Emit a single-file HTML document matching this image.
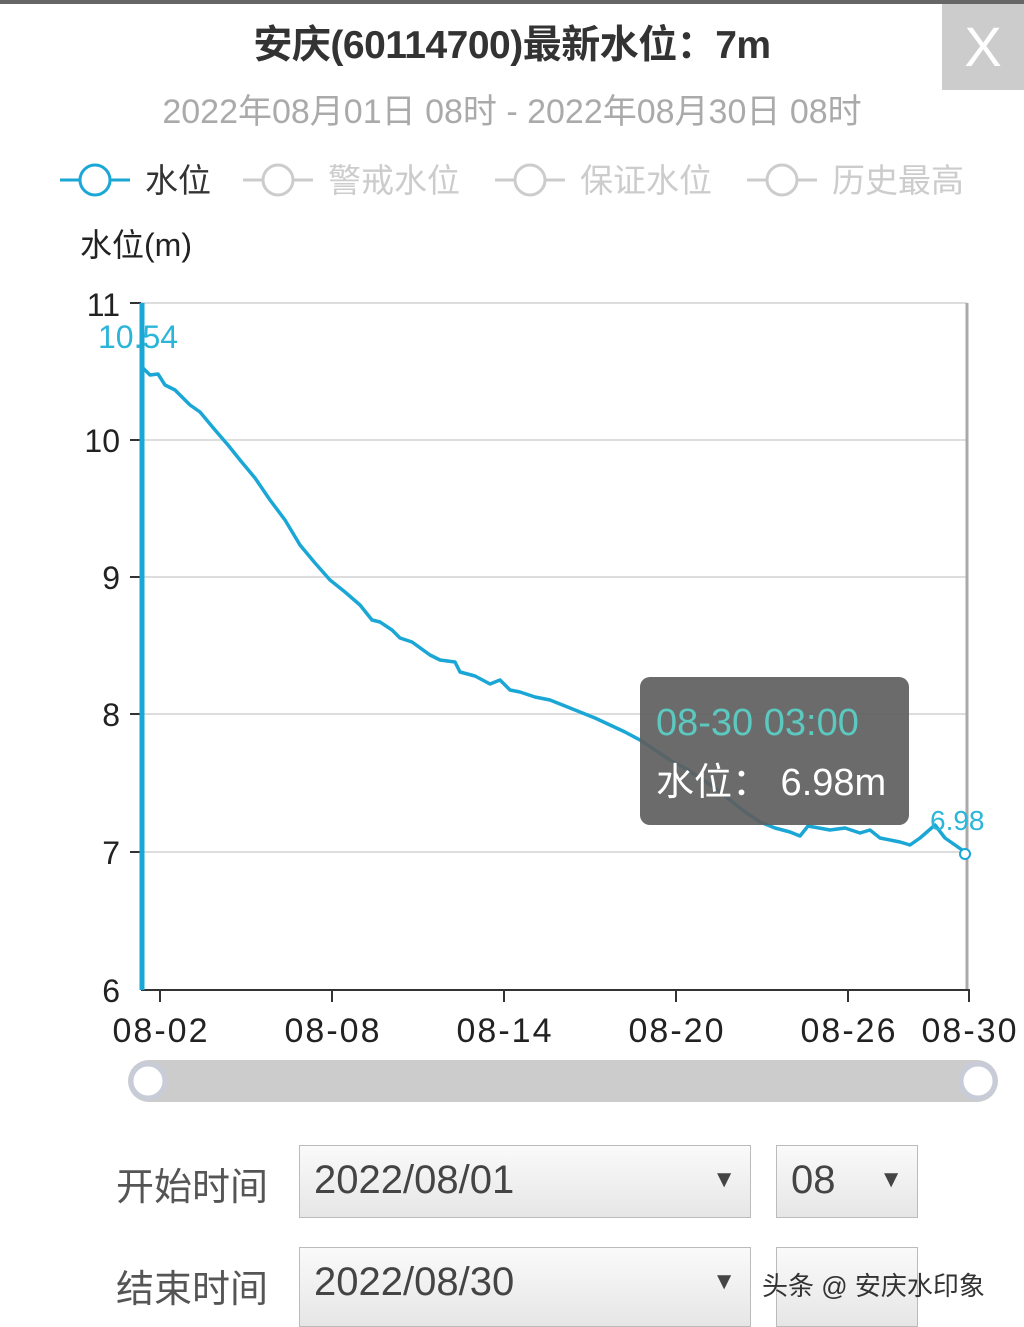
<!DOCTYPE html>
<html><head><meta charset="utf-8"><style>
body{margin:0;width:1024px;height:1320px;background:#fff;position:relative;overflow:hidden;font-family:"Liberation Sans","Noto Sans CJK SC",sans-serif}
.a{position:absolute;white-space:nowrap}
.sel{position:absolute;border:1px solid #bbb;background:linear-gradient(#fafafa,#e6e6e6);box-sizing:border-box;font-size:40px;color:#444}
</style></head><body>
<div class="a" style="left:0;top:0;width:1024px;height:4px;background:#666"></div>
<div class="a" style="left:0;top:14px;width:1024px;text-align:center;font-size:39px;font-weight:bold;color:#333;letter-spacing:-0.5px">安庆(60114700)最新水位：7m</div>
<div class="a" style="left:942px;top:4px;width:82px;height:86px;background:#ccc;color:#fff;font-size:56px;text-align:center;line-height:86px">X</div>
<div class="a" style="left:0;top:84px;width:1024px;text-align:center;font-size:34px;color:#aaa">2022年08月01日 08时 - 2022年08月30日 08时</div>
<svg class="a" style="left:0;top:0" width="1024" height="1320">
<g fill="#fff" stroke-width="3">
<line x1="60" y1="180" x2="130" y2="180" stroke="#1aa7d6"/><circle cx="95" cy="180" r="15" stroke="#1aa7d6"/>
<line x1="243" y1="180" x2="313" y2="180" stroke="#ccc"/><circle cx="278" cy="180" r="15" stroke="#ccc"/>
<line x1="495" y1="180" x2="565" y2="180" stroke="#ccc"/><circle cx="530" cy="180" r="15" stroke="#ccc"/>
<line x1="747" y1="180" x2="817" y2="180" stroke="#ccc"/><circle cx="782" cy="180" r="15" stroke="#ccc"/>
</g>
<text x="145" y="192" font-size="33" fill="#333">水位</text>
<text x="328" y="192" font-size="33" fill="#ccc">警戒水位</text>
<text x="580" y="192" font-size="33" fill="#ccc">保证水位</text>
<text x="832" y="192" font-size="33" fill="#ccc">历史最高</text>
<text x="80" y="256" font-size="32" fill="#222">水位(m)</text>
<g stroke="#ddd" stroke-width="2">
<line x1="141" y1="303" x2="967" y2="303"/><line x1="141" y1="440" x2="967" y2="440"/><line x1="141" y1="577" x2="967" y2="577"/><line x1="141" y1="714" x2="967" y2="714"/><line x1="141" y1="852" x2="967" y2="852"/>
</g>
<line x1="967" y1="303" x2="967" y2="990" stroke="#aaa" stroke-width="3"/>
<g stroke="#333" stroke-width="2">
<line x1="130" y1="303" x2="141" y2="303"/><line x1="130" y1="440" x2="141" y2="440"/><line x1="130" y1="577" x2="141" y2="577"/><line x1="130" y1="714" x2="141" y2="714"/><line x1="130" y1="852" x2="141" y2="852"/>
<line x1="141" y1="990" x2="970" y2="990"/>
<line x1="160" y1="990" x2="160" y2="1002"/><line x1="332" y1="990" x2="332" y2="1002"/><line x1="504" y1="990" x2="504" y2="1002"/><line x1="676" y1="990" x2="676" y2="1002"/><line x1="848" y1="990" x2="848" y2="1002"/><line x1="969" y1="990" x2="969" y2="1002"/>
</g>
<g font-size="32" fill="#222" text-anchor="end">
<text x="120" y="316">11</text><text x="120" y="452">10</text><text x="120" y="589">9</text><text x="120" y="726">8</text><text x="120" y="864">7</text><text x="120" y="1002">6</text>
</g>
<g font-size="34" fill="#222" text-anchor="middle" letter-spacing="2">
<text x="161" y="1042">08-02</text><text x="333" y="1042">08-08</text><text x="505" y="1042">08-14</text><text x="677" y="1042">08-20</text><text x="849" y="1042">08-26</text><text x="970" y="1042">08-30</text>
</g>
<line x1="142" y1="303" x2="142" y2="990" stroke="#1aa7d6" stroke-width="5"/>
<polyline fill="none" stroke="#1aa7d6" stroke-width="3.5" stroke-linejoin="round" points="143,368 150,375 158,374 165,385 175,390 190,405 200,412 215,430 228,445 240,460 255,478 270,500 285,520 300,545 315,563 330,580 345,592 360,605 372,620 380,622 392,630 400,638 412,642 430,655 440,660 455,662 460,672 475,676 490,684 500,680 510,690 520,692 535,697 550,700 565,706 580,712 595,718 610,725 625,732 640,740 655,750 670,760 685,768 700,778 715,788 730,800 745,812 760,822 775,828 790,832 800,836 808,826 830,830 845,828 860,833 870,830 880,838 900,842 910,845 920,838 935,825 945,838 955,845 965,852"/>
<circle cx="965" cy="854" r="5" fill="#fff" stroke="#1aa7d6" stroke-width="2"/>
<text x="98" y="348" font-size="32" fill="#2bb5d8">10.54</text>
<text x="930" y="830" font-size="28" fill="#2bb5d8">6.98</text>
<rect x="640" y="677" width="269" height="148" rx="10" fill="#5e5e5e" fill-opacity="0.92"/>
<text x="656" y="735" font-size="38" fill="#5cc9c0">08-30 03:00</text>
<text x="656" y="795" font-size="38" fill="#fff">水位： 6.98m</text>
<rect x="128" y="1060" width="870" height="42" rx="21" fill="#ccc"/>
<circle cx="148" cy="1081" r="17" fill="#fff" stroke="#c8ccd8" stroke-width="5"/>
<circle cx="978" cy="1081" r="17" fill="#fff" stroke="#c8ccd8" stroke-width="5"/>
</svg>
<div class="a" style="left:116px;top:1156px;font-size:38px;color:#555">开始时间</div>
<div class="a" style="left:116px;top:1258px;font-size:38px;color:#555">结束时间</div>
<div class="sel" style="left:299px;top:1145px;width:452px;height:73px;padding:12px 0 0 14px">2022/08/01<span style="position:absolute;right:14px;top:20px;font-size:24px">▼</span></div>
<div class="sel" style="left:776px;top:1145px;width:142px;height:73px;padding:12px 0 0 14px">08<span style="position:absolute;right:14px;top:20px;font-size:24px">▼</span></div>
<div class="sel" style="left:299px;top:1247px;width:452px;height:80px;padding:12px 0 0 14px">2022/08/30<span style="position:absolute;right:14px;top:20px;font-size:24px">▼</span></div>
<div class="sel" style="left:776px;top:1247px;width:142px;height:80px"></div>
<div class="a" style="left:762px;top:1266px;font-size:26px;color:#333">头条 @ 安庆水印象</div>
</body></html>
